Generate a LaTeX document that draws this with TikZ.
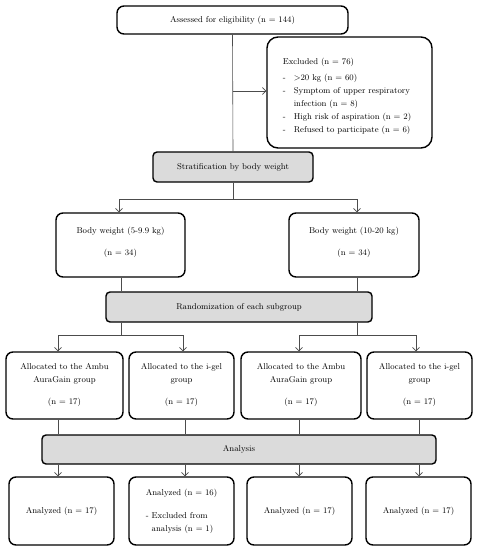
\documentclass[tikz,border=0pt]{standalone}
\usetikzlibrary{arrows.meta}
\begin{document}
\begin{tikzpicture}[x=1pt,y=-1pt,
  txt/.style={font=\fontsize{8.5}{13}\selectfont},
  box/.style={draw=black, line width=1.4pt, rounded corners=7pt, align=center, inner sep=0pt, txt},
  gbox/.style={box, fill=gray!28, rounded corners=4pt},
  conn/.style={draw=black!70, line width=0.6pt},
  arr/.style={conn, -{Straight Barb[length=3.5pt,width=7pt]}}]
\useasboundingbox (0,0) rectangle (480,550);

% nodes
\node[box, minimum width=231pt, minimum height=28pt] (top) at (232.5,20) {Assessed for eligibility (n = 144)};
\node[box, rounded corners=11pt, minimum width=165pt, minimum height=111pt] (excl) at (349.5,92.5) {};
\node[txt, align=left, inner sep=0pt] (excltxt) at (347,96.5)
 {Excluded (n = 76)\\[3pt]
  \makebox[11pt][l]{-}{>}20 kg (n = 60)\\
  \makebox[11pt][l]{-}Symptom of upper respiratory\\
  \hspace*{11pt}infection (n = 8)\\
  \makebox[11pt][l]{-}High risk of aspiration (n = 2)\\
  \makebox[11pt][l]{-}Refused to participate (n = 6)};
\node[gbox, minimum width=160pt, minimum height=30pt] (strat) at (233,167) {Stratification by body weight};
\node[box, minimum width=129pt, minimum height=64pt] (bw1) at (120.5,245) {Body weight (5-9.9 kg)\\[9pt](n = 34)\\[-6pt]\mbox{}};
\node[box, minimum width=130pt, minimum height=64pt] (bw2) at (354,245) {Body weight (10-20 kg)\\[9pt](n = 34)\\[-6pt]\mbox{}};
\node[gbox, minimum width=266pt, minimum height=30pt] (rand) at (239,307) {Randomization of each subgroup};
\node[box, minimum width=117pt, minimum height=67pt] (al1) at (64.5,385.5) {Allocated to the Ambu\\AuraGain group\\[9pt](n = 17)};
\node[box, minimum width=105pt, minimum height=67pt] (al2) at (181.5,385.5) {Allocated to the i-gel\\group\\[9pt](n = 17)};
\node[box, minimum width=120pt, minimum height=67pt] (al3) at (301,385.5) {Allocated to the Ambu\\AuraGain group\\[9pt](n = 17)};
\node[box, minimum width=105pt, minimum height=67pt] (al4) at (419.5,385.5) {Allocated to the i-gel\\group\\[9pt](n = 17)};
\node[gbox, minimum width=394pt, minimum height=29pt] (ana) at (239,449.5) {Analysis};
\node[box, minimum width=105pt, minimum height=68pt] (an1) at (61.5,511) {Analyzed (n = 17)};
\node[box, minimum width=105pt, minimum height=68pt, align=left] (an2) at (181.5,511) {Analyzed (n = 16)\\[10pt]-\hspace{3pt}Excluded from\\\hphantom{-}\hspace{3pt}analysis (n = 1)};
\node[box, minimum width=105pt, minimum height=68pt] (an3) at (299.5,511) {Analyzed (n = 17)};
\node[box, minimum width=105pt, minimum height=68pt] (an4) at (418.5,511) {Analyzed (n = 17)};

% junction coordinates
\coordinate (j0) at (233,91);
\coordinate (j1) at (233,199);
\coordinate (j1l) at (119,199);
\coordinate (j1r) at (357,199);
\coordinate (j2l) at (121,335);
\coordinate (j2r) at (357,335);
\coordinate (j2a) at (58,335);
\coordinate (j2b) at (183,335);
\coordinate (j2c) at (299,335);
\coordinate (j2d) at (416,335);
\coordinate (c1) at (58,0);
\coordinate (c2) at (185,0);
\coordinate (c3) at (299,0);
\coordinate (c4) at (419,0);

% connectors
\draw[conn] (top.south) -- (strat.north);
\draw[arr] (j0) -- (j0 -| excl.west);
\draw[conn] (strat.south) -- (j1);
\draw[conn] (j1l) -- (j1r);
\draw[arr] (j1l) -- (j1l |- bw1.north);
\draw[arr] (j1r) -- (j1r |- bw2.north);
\draw[conn] (j2l |- bw1.south) -- (j2l |- rand.north);
\draw[conn] (j2r |- bw2.south) -- (j2r |- rand.north);
\draw[conn] (j2l |- rand.south) -- (j2l);
\draw[conn] (j2r |- rand.south) -- (j2r);
\draw[conn] (j2a) -- (j2b);
\draw[conn] (j2c) -- (j2d);
\draw[arr] (j2a) -- (j2a |- al1.north);
\draw[arr] (j2b) -- (j2b |- al2.north);
\draw[arr] (j2c) -- (j2c |- al3.north);
\draw[arr] (j2d) -- (j2d |- al4.north);
\draw[conn] (c1 |- al1.south) -- (c1 |- ana.north);
\draw[conn] (c2 |- al2.south) -- (c2 |- ana.north);
\draw[conn] (c3 |- al3.south) -- (c3 |- ana.north);
\draw[conn] (c4 |- al4.south) -- (c4 |- ana.north);
\draw[arr] (c1 |- ana.south) -- (c1 |- an1.north);
\draw[arr] (c2 |- ana.south) -- (c2 |- an2.north);
\draw[arr] (c3 |- ana.south) -- (c3 |- an3.north);
\draw[arr] (c4 |- ana.south) -- (c4 |- an4.north);
\end{tikzpicture}
\end{document}
